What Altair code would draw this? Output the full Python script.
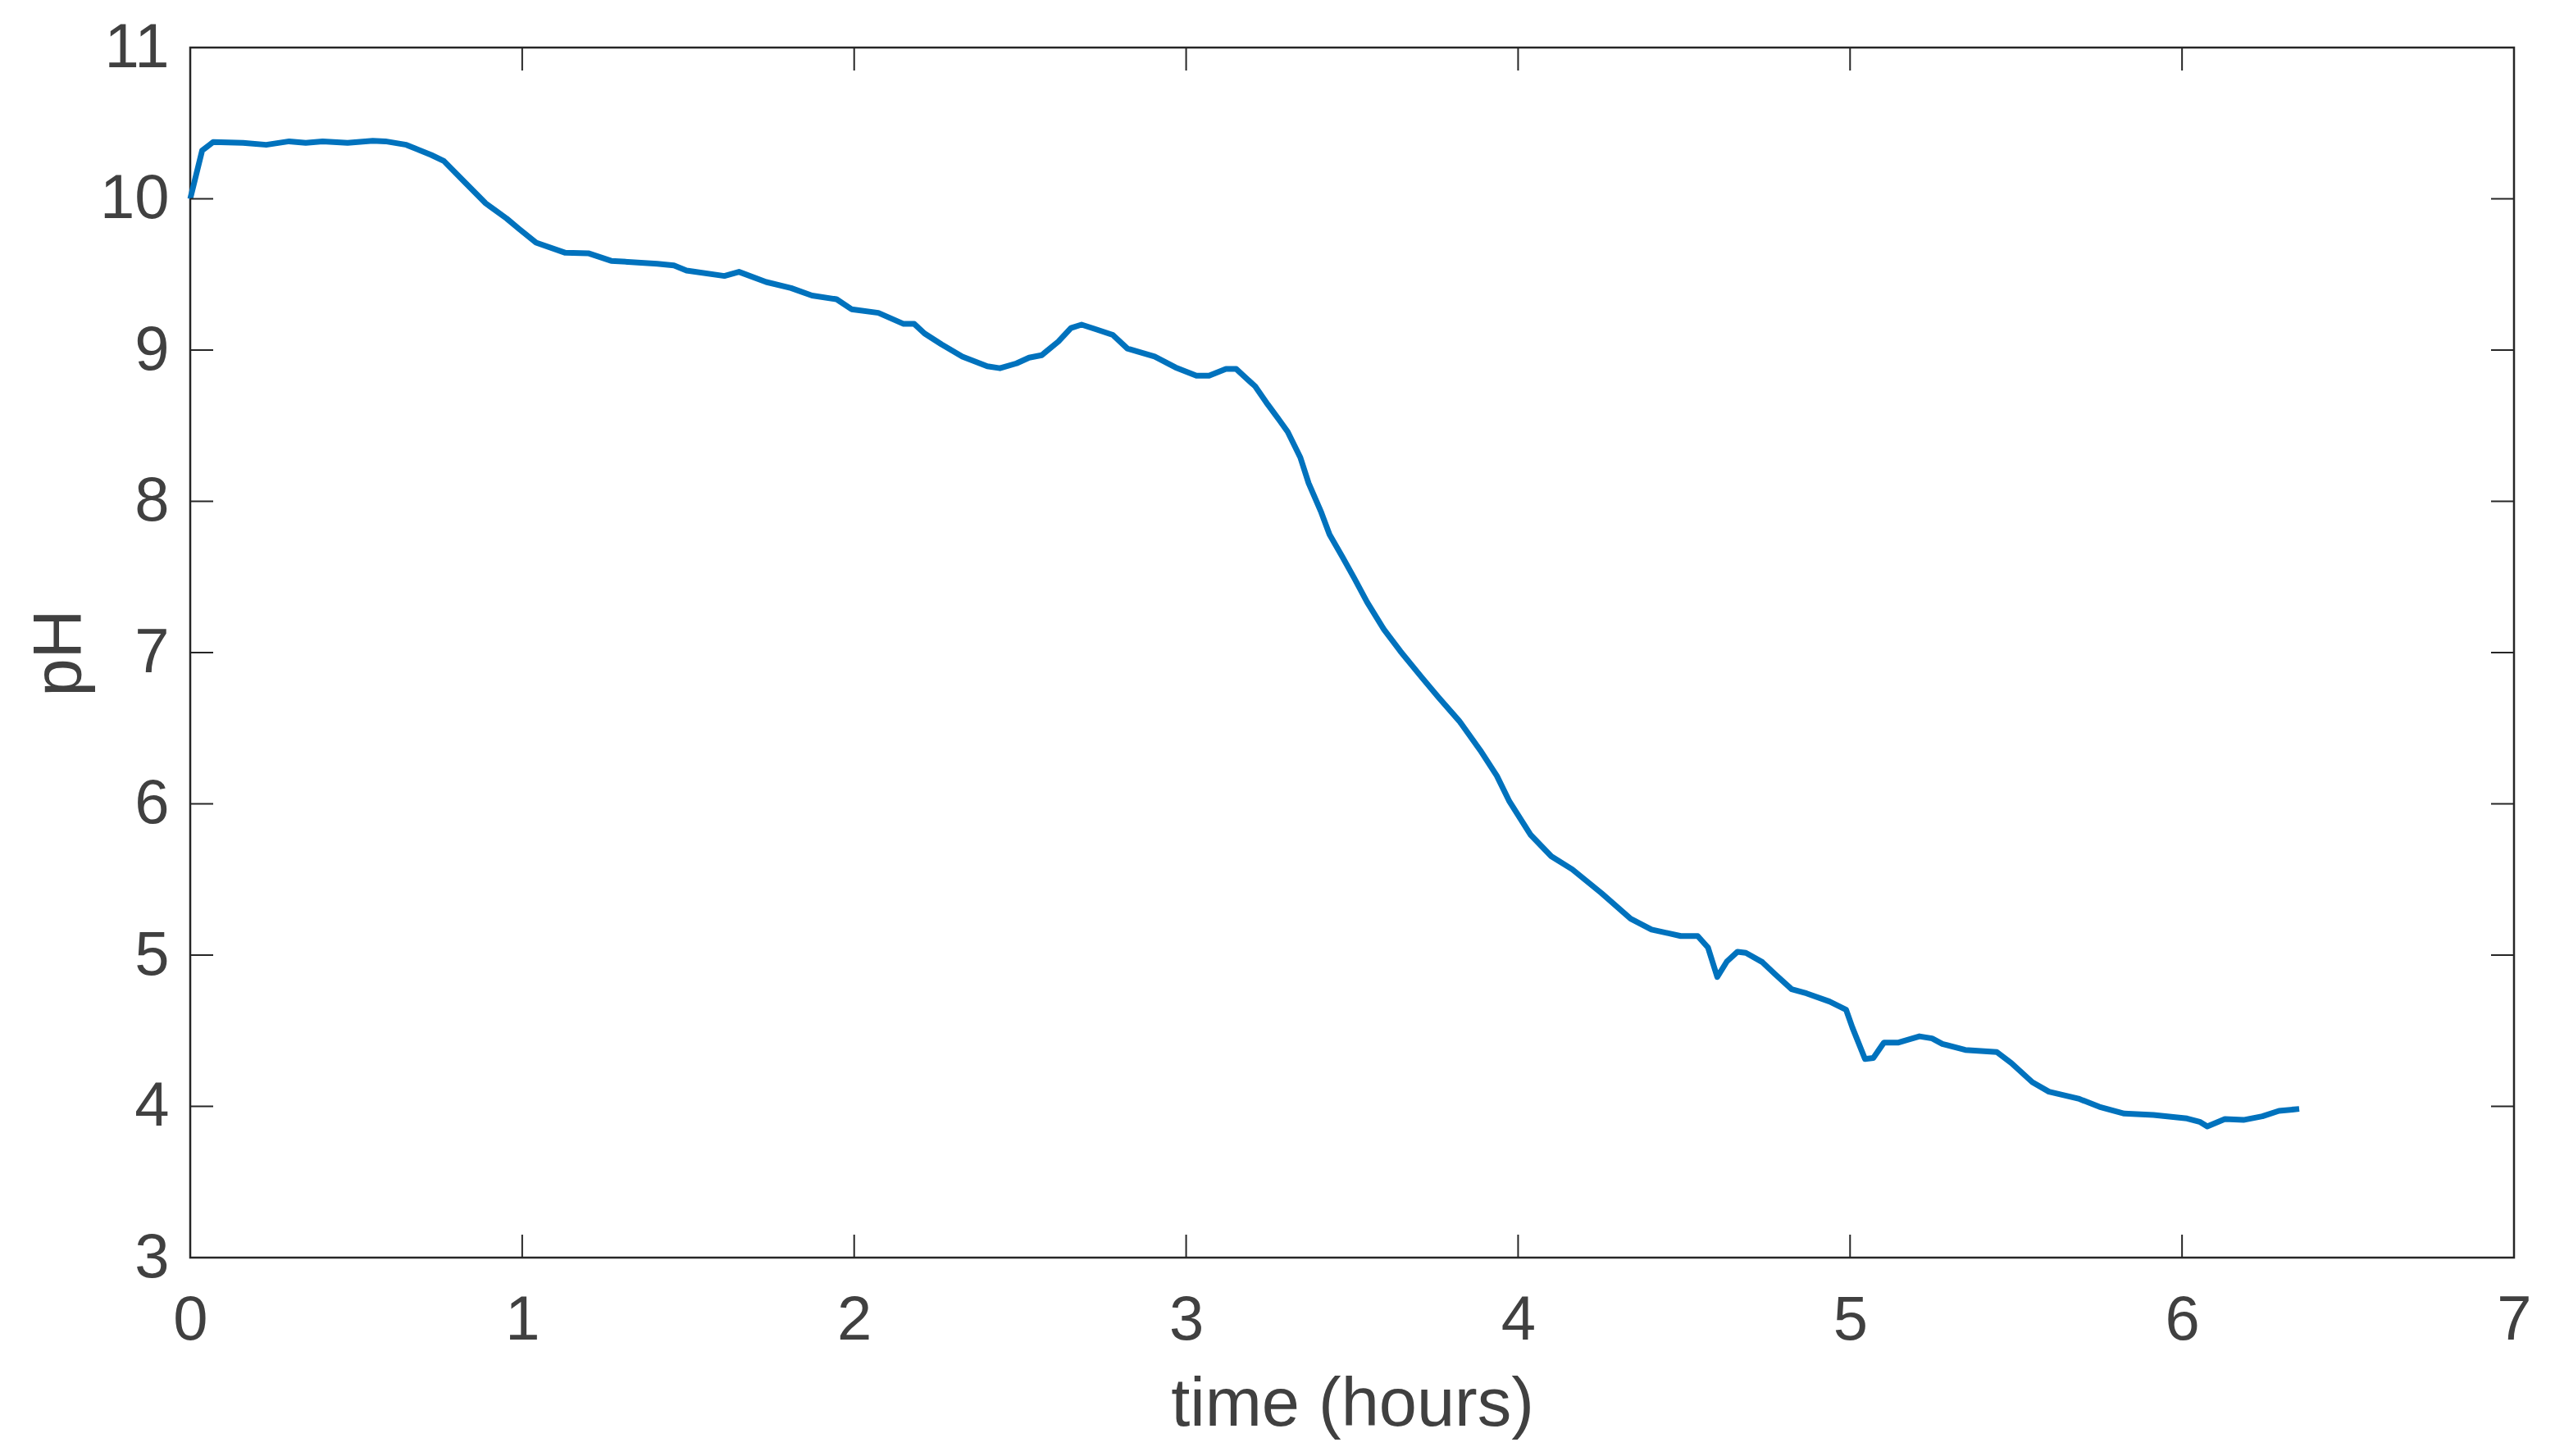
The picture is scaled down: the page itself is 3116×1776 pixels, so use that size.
import altair as alt
import pandas as pd

time_h = [0.0, 0.036, 0.069, 0.159, 0.229, 0.298, 0.348, 0.399, 0.474, 0.550, 0.588, 0.651,
          0.726, 0.764, 0.827, 0.890, 0.953, 0.991, 1.042, 1.130, 1.199, 1.268, 1.407, 1.457,
          1.495, 1.609, 1.653, 1.735, 1.810, 1.873, 1.947, 1.992, 2.073, 2.149, 2.181, 2.212,
          2.263, 2.326, 2.401, 2.439, 2.489, 2.527, 2.565, 2.615, 2.653, 2.685, 2.729, 2.779,
          2.823, 2.905, 2.968, 3.031, 3.069, 3.120, 3.151, 3.208, 3.246, 3.283, 3.306, 3.344,
          3.369, 3.407, 3.432, 3.470, 3.507, 3.545, 3.596, 3.646, 3.709, 3.760, 3.823, 3.886,
          3.936, 3.974, 4.037, 4.100, 4.163, 4.251, 4.339, 4.402, 4.490, 4.541, 4.572, 4.600,
          4.629, 4.661, 4.686, 4.736, 4.774, 4.824, 4.869, 4.938, 4.988, 5.007, 5.045, 5.070,
          5.102, 5.146, 5.209, 5.247, 5.278, 5.347, 5.442, 5.486, 5.549, 5.599, 5.688, 5.751,
          5.826, 5.914, 6.015, 6.053, 6.076, 6.129, 6.185, 6.242, 6.292, 6.353]
ph = [10.0, 10.32, 10.375, 10.37, 10.357, 10.38, 10.37, 10.38, 10.37, 10.384, 10.38, 10.357,
      10.29, 10.25, 10.11, 9.97, 9.87, 9.80, 9.71, 9.643, 9.64, 9.59, 9.57, 9.56,
      9.526, 9.49, 9.517, 9.45, 9.41, 9.36, 9.336, 9.27, 9.246, 9.173, 9.173, 9.11,
      9.038, 8.957, 8.893, 8.88, 8.912, 8.95, 8.966, 9.056, 9.146, 9.168, 9.137, 9.10,
      9.01, 8.957, 8.885, 8.83, 8.83, 8.875, 8.875, 8.76, 8.64, 8.53, 8.459, 8.29,
      8.12, 7.927, 7.78, 7.636, 7.49, 7.334, 7.152, 7.007, 6.838, 6.705, 6.547, 6.354,
      6.185, 6.015, 5.797, 5.653, 5.567, 5.41, 5.241, 5.169, 5.126, 5.126, 5.05, 4.855,
      4.958, 5.022, 5.015, 4.953, 4.874, 4.774, 4.747, 4.693, 4.639, 4.521, 4.313, 4.32,
      4.422, 4.422, 4.463, 4.449, 4.413, 4.373, 4.359, 4.286, 4.16, 4.097, 4.051, 3.997,
      3.952, 3.943, 3.92, 3.898, 3.867, 3.916, 3.91, 3.934, 3.970, 3.983]

x_ticks = [0, 1, 2, 3, 4, 5, 6, 7]
y_ticks = [3, 4, 5, 6, 7, 8, 9, 10, 11]

W, H = 2834, 1476
TICK = 28
FONT = "Liberation Sans"
TEXT = "#404040"
AXC = "#262626"

df = pd.DataFrame({"t": time_h, "ph": ph})
xt = pd.DataFrame({"v": x_ticks})
yt = pd.DataFrame({"v": y_ticks})

xscale = alt.Scale(domain=[0, 7], nice=False, zero=False)
yscale = alt.Scale(domain=[3, 11], nice=False, zero=False)

xaxis = alt.Axis(title="time (hours)", values=x_ticks, format="d", ticks=False, domain=False,
                 grid=False, labelFont=FONT, labelFontSize=76, labelColor=TEXT,
                 labelBaseline="alphabetic", labelPadding=99, labelFlush=False, labelOverlap=False,
                 titleFont=FONT, titleFontSize=83, titleFontWeight="normal", titleColor=TEXT,
                 titleBaseline="alphabetic", titleX=W / 2, titleY=204)
yaxis = alt.Axis(title="pH", values=y_ticks, format="d", ticks=False, domain=False,
                 grid=False, labelFont=FONT, labelFontSize=76, labelColor=TEXT,
                 labelBaseline="middle", labelPadding=26, labelFlush=False, labelOverlap=False,
                 titleFont=FONT, titleFontSize=83, titleFontWeight="normal", titleColor=TEXT,
                 titleBaseline="alphabetic", titleAngle=-90, titleX=-134, titleY=H / 2)

line = alt.Chart(df).mark_line(color="#0072BD", strokeWidth=7, strokeJoin="round").encode(
    x=alt.X("t:Q", scale=xscale, axis=xaxis),
    y=alt.Y("ph:Q", scale=yscale, axis=yaxis),
)

tick_style = dict(color=AXC, strokeWidth=2)

xt_bottom = alt.Chart(xt).mark_rule(**tick_style).encode(
    x=alt.X("v:Q", scale=xscale, axis=xaxis), y=alt.value(H), y2=alt.value(H - TICK))
xt_top = alt.Chart(xt).mark_rule(**tick_style).encode(
    x=alt.X("v:Q", scale=xscale, axis=xaxis), y=alt.value(0), y2=alt.value(TICK))
yt_left = alt.Chart(yt).mark_rule(**tick_style).encode(
    y=alt.Y("v:Q", scale=yscale, axis=yaxis), x=alt.value(0), x2=alt.value(TICK))
yt_right = alt.Chart(yt).mark_rule(**tick_style).encode(
    y=alt.Y("v:Q", scale=yscale, axis=yaxis), x=alt.value(W), x2=alt.value(W - TICK))

chart = alt.layer(line, xt_bottom, xt_top, yt_left, yt_right).properties(
    width=W, height=H,
    padding={"left": 224, "top": 50, "right": 40, "bottom": 226},
    autosize=alt.AutoSizeParams(type="none"),
    background="white",
).configure_view(stroke=AXC, strokeWidth=2.5)

chart.save("out.html", embed_options={"renderer": "svg", "actions": False})
